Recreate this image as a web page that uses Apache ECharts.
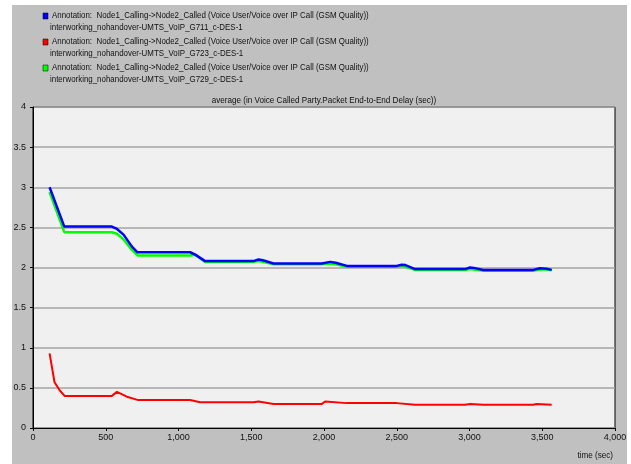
<!DOCTYPE html>
<html>
<head>
<meta charset="utf-8">
<script src="https://cdn.jsdelivr.net/npm/echarts@6/dist/echarts.min.js"></script>
<style>
html,body{margin:0;padding:0;background:#ffffff;}
#bg{position:absolute;left:12px;top:5px;width:615px;height:459px;background:#c0c0c0;}
#chart{position:absolute;left:0;top:0;width:631px;height:464px;}
</style>
</head>
<body>
<div id="bg"></div>
<div id="chart"></div>
<script>
// ---- data ----
const seriesNames = ['G711', 'G723', 'G729'];
const legendLine1 = 'Annotation:  Node1_Calling->Node2_Called (Voice User/Voice over IP Call (GSM Quality))';
const legendLine2 = [
  'interworking_nohandover-UMTS_VoIP_G711_c-DES-1',
  'interworking_nohandover-UMTS_VoIP_G723_c-DES-1',
  'interworking_nohandover-UMTS_VoIP_G729_c-DES-1'
];
const chartTitle = 'average (in Voice Called Party.Packet End-to-End Delay (sec))';
const xAxisName = 'time (sec)';

const g711Time  = [114, 215, 542, 577, 622, 680, 718, 1080, 1115, 1183, 1515, 1550, 1580, 1653, 1985, 2042, 2080, 2157, 2500, 2534, 2560, 2626, 2969, 3003, 3030, 3095, 3438, 3484, 3530, 3565];
const g711Delay = [3.00, 2.51, 2.51, 2.48, 2.41, 2.26, 2.19, 2.19, 2.16, 2.08, 2.08, 2.10, 2.09, 2.05, 2.05, 2.07, 2.06, 2.02, 2.02, 2.035, 2.03, 1.98, 1.98, 2.00, 1.995, 1.97, 1.97, 1.99, 1.985, 1.97];

const g729Time  = [114, 215, 542, 577, 622, 680, 718, 1080, 1115, 1183, 1515, 1550, 1580, 1653, 1985, 2042, 2080, 2157, 2500, 2534, 2560, 2626, 2969, 3003, 3030, 3095, 3438, 3484, 3530, 3565];
const g729Delay = [2.94, 2.44, 2.44, 2.42, 2.35, 2.22, 2.15, 2.15, 2.16, 2.07, 2.07, 2.08, 2.07, 2.04, 2.04, 2.05, 2.04, 2.01, 2.01, 2.02, 2.01, 1.97, 1.97, 1.98, 1.975, 1.96, 1.96, 1.975, 1.975, 1.965];

const g723Time  = [114, 148, 183, 217, 542, 577, 645, 718, 1080, 1148, 1183, 1515, 1550, 1653, 1985, 2008, 2157, 2500, 2626, 2969, 3003, 3095, 3438, 3460, 3565];
const g723Delay = [0.93, 0.57, 0.47, 0.40, 0.40, 0.45, 0.39, 0.35, 0.35, 0.32, 0.32, 0.32, 0.33, 0.30, 0.30, 0.33, 0.31, 0.31, 0.29, 0.29, 0.30, 0.29, 0.29, 0.30, 0.29];

const colors = ['#0000ff', '#ff0000', '#00ff00'];

// ---- chart ----
const FONT = "'Liberation Sans', Arial, sans-serif";
const zip = (a, b) => a.map((v, i) => [v, b[i]]);

const chart = echarts.init(document.getElementById('chart'), null, {renderer: 'canvas'});

const SX = 0.88;
const g = [];
for (let i = 0; i < 3; i++) {
  const top = 12 + i * 26;
  g.push({
    type: 'rect', x: 43, y: top + 1, shape: {width: 5, height: 6},
    style: {fill: colors[i], stroke: '#000', lineWidth: 0.5}
  });
  g.push({
    type: 'text', x: 52, y: top + 4, scaleX: SX,
    style: {text: legendLine1, x: 0, y: 0, textVerticalAlign: 'middle', verticalAlign: 'middle',
            font: '9px ' + FONT, fill: '#111'}
  });
  g.push({
    type: 'text', x: 50, y: top + 16, scaleX: SX,
    style: {text: legendLine2[i], x: 0, y: 0, textVerticalAlign: 'middle', verticalAlign: 'middle',
            font: '9px ' + FONT, fill: '#111'}
  });
}
g.push({
  type: 'text', x: 324, y: 101, scaleX: 0.9,
  style: {text: chartTitle, x: 0, y: 0, align: 'center', textAlign: 'center',
          verticalAlign: 'middle', textVerticalAlign: 'middle', font: '9px ' + FONT, fill: '#111'}
});
g.push({
  type: 'text', x: 613, y: 456, scaleX: 0.9,
  style: {text: xAxisName, x: 0, y: 0, align: 'right', textAlign: 'right',
          verticalAlign: 'middle', textVerticalAlign: 'middle', font: '9px ' + FONT, fill: '#111'}
});

chart.setOption({
  animation: false,
  backgroundColor: 'transparent',
  grid: {
    left: 33, top: 107, right: 16, bottom: 36, show: true,
    backgroundColor: '#f0f0f0', borderColor: '#000', borderWidth: 1
  },
  xAxis: {
    type: 'value', min: 0, max: 4000, interval: 500,
    axisLine: {show: true, lineStyle: {color: '#000', width: 1}},
    axisTick: {show: true, length: 3, lineStyle: {color: '#000'}},
    splitLine: {show: false},
    axisLabel: {
      fontFamily: FONT, fontSize: 9, color: '#111', margin: 5,
      formatter: v => v.toLocaleString('en-US')
    }
  },
  yAxis: {
    type: 'value', min: 0, max: 4, interval: 0.5,
    axisLine: {show: true, lineStyle: {color: '#000', width: 1}},
    axisTick: {show: true, length: 3, lineStyle: {color: '#000'}},
    splitLine: {show: true, lineStyle: {color: '#a4a4a4', width: 1.6}},
    axisLabel: {fontFamily: FONT, fontSize: 9, color: '#111', margin: 7}
  },
  graphic: g,
  series: [
    {name: seriesNames[1], type: 'line', data: zip(g723Time, g723Delay), showSymbol: false,
     lineStyle: {color: colors[1], width: 2}, z: 2},
    {name: seriesNames[2], type: 'line', data: zip(g729Time, g729Delay), showSymbol: false,
     lineStyle: {color: colors[2], width: 2.5}, z: 3},
    {name: seriesNames[0], type: 'line', data: zip(g711Time, g711Delay), showSymbol: false,
     lineStyle: {color: colors[0], width: 2.5}, z: 4}
  ]
});
</script>
</body>
</html>
